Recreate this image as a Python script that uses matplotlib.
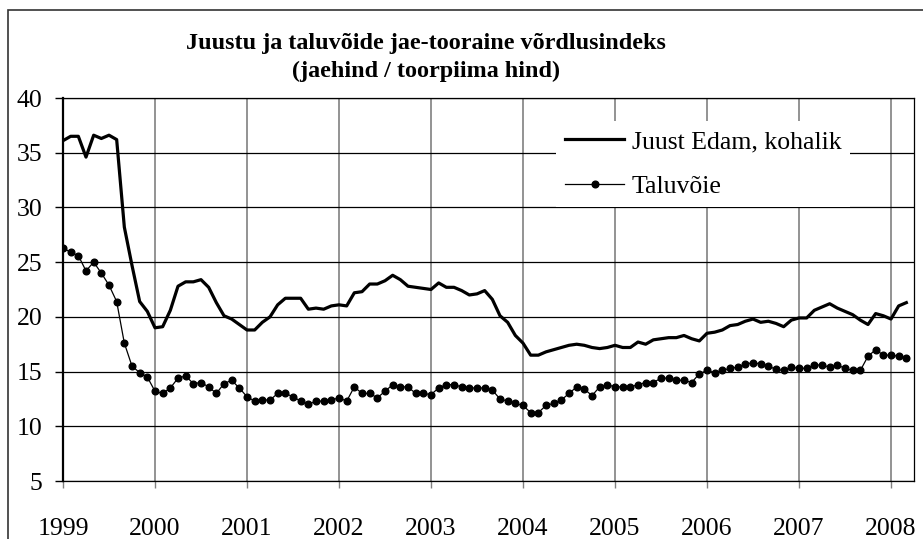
import numpy as np
import matplotlib.pyplot as plt
from matplotlib.patches import Rectangle

plt.rcParams['font.family'] = ['Liberation Serif', 'DejaVu Serif']

# ============================================================
# Datos mensuales (ene 1999 - mar 2008)
# ============================================================

start_year = 1999

juust_edam = [
    36.1, 36.5, 36.5, 34.6, 36.6, 36.3, 36.6, 36.2, 28.2, 24.7, 21.4, 20.5,  # 1999
    19.0, 19.1, 20.6, 22.8, 23.2, 23.2, 23.4, 22.7, 21.3, 20.1, 19.8, 19.3,  # 2000
    18.8, 18.8, 19.5, 20.0, 21.1, 21.7, 21.7, 21.7, 20.7, 20.8, 20.7, 21.0,  # 2001
    21.1, 21.0, 22.2, 22.3, 23.0, 23.0, 23.3, 23.8, 23.4, 22.8, 22.7, 22.6,  # 2002
    22.5, 23.1, 22.7, 22.7, 22.4, 22.0, 22.1, 22.4, 21.6, 20.1, 19.5, 18.3,  # 2003
    17.6, 16.5, 16.5, 16.8, 17.0, 17.2, 17.4, 17.5, 17.4, 17.2, 17.1, 17.2,  # 2004
    17.4, 17.2, 17.2, 17.7, 17.5, 17.9, 18.0, 18.1, 18.1, 18.3, 18.0, 17.8,  # 2005
    18.5, 18.6, 18.8, 19.2, 19.3, 19.6, 19.8, 19.5, 19.6, 19.4, 19.1, 19.7,  # 2006
    19.9, 19.9, 20.6, 20.9, 21.2, 20.8, 20.5, 20.2, 19.7, 19.3, 20.3, 20.1,  # 2007
    19.8, 21.0, 21.3,                                                        # 2008
]

taluvoie = [
    26.3, 25.9, 25.6, 24.2, 25.0, 24.0, 22.9, 21.4, 17.6, 15.5, 14.9, 14.5,  # 1999
    13.2, 13.0, 13.5, 14.4, 14.6, 13.9, 14.0, 13.6, 13.0, 13.9, 14.2, 13.5,  # 2000
    12.7, 12.3, 12.4, 12.4, 13.0, 13.0, 12.7, 12.3, 12.0, 12.3, 12.3, 12.4,  # 2001
    12.6, 12.3, 13.6, 13.0, 13.0, 12.6, 13.2, 13.8, 13.6, 13.6, 13.0, 13.0,  # 2002
    12.9, 13.5, 13.8, 13.8, 13.6, 13.5, 13.5, 13.5, 13.3, 12.5, 12.3, 12.1,  # 2003
    11.9, 11.25, 11.25, 11.9, 12.1, 12.4, 13.0, 13.6, 13.4, 12.8, 13.6, 13.8,  # 2004
    13.6, 13.6, 13.6, 13.8, 14.0, 14.0, 14.4, 14.4, 14.2, 14.2, 14.0, 14.8,  # 2005
    15.1, 14.9, 15.1, 15.3, 15.4, 15.7, 15.8, 15.7, 15.5, 15.2, 15.1, 15.4,  # 2006
    15.3, 15.3, 15.6, 15.6, 15.4, 15.6, 15.3, 15.1, 15.1, 16.4, 17.0, 16.5,  # 2007
    16.5, 16.4, 16.2,                                                        # 2008
]

years = list(range(1999, 2009))
y_ticks = [5, 10, 15, 20, 25, 30, 35, 40]

title_lines = ["Juustu ja taluvõide jae-tooraine võrdlusindeks",
               "(jaehind / toorpiima hind)"]
label_juust = "Juust Edam, kohalik"
label_talu = "Taluvõie"

# eje temporal en años fraccionarios
t = start_year + np.arange(len(juust_edam)) / 12.0

# ============================================================
# Figura
# ============================================================

W, H = 923, 539
fig = plt.figure(figsize=(W / 100, H / 100), dpi=100)
ax = fig.add_axes([63 / W, 1 - 481 / H, (914 - 63) / W, (481 - 98) / H])

# marco exterior del gráfico
fig.patches.append(Rectangle((8 / W, -0.1), 1.2, 1.1 - 10 / H,
                             transform=fig.transFigure, fill=False,
                             edgecolor="#333333", linewidth=1.2))

ax.plot(t, juust_edam, color="black", linewidth=2.3, label=label_juust,
        zorder=3)
ax.plot(t, taluvoie, color="black", linewidth=0.9, marker="o",
        markersize=4.8, label=label_talu, zorder=3)

ax.set_xlim(1999, 2008.25)
ax.set_ylim(5, 40)
ax.set_xticks(years)
ax.set_xticklabels([str(y) for y in years])
ax.set_yticks(y_ticks)

ax.grid(axis="y", color="black", linewidth=0.9)
ax.grid(axis="x", color="#808080", linewidth=1.2)
ax.set_axisbelow(True)

for side in ["top", "right", "bottom"]:
    ax.spines[side].set_linewidth(0.9)
ax.spines["left"].set_linewidth(1.6)

ax.tick_params(axis="x", length=5, width=1, color="#808080", pad=21.5,
               labelsize=18.5)
ax.tick_params(axis="y", length=6, width=1, pad=9, labelsize=18.5)

leg = ax.legend(loc="upper left", bbox_to_anchor=(556 / W, 1 - 121 / H),
                bbox_transform=fig.transFigure,
                fontsize=18.5, frameon=True, fancybox=False, framealpha=1,
                edgecolor="none", handlelength=2.3, handletextpad=0.3,
                labelspacing=0.85, borderpad=0.35, borderaxespad=0)

fig.text(426 / W, 1 - 43 / H, title_lines[0], ha="center", va="center",
         fontsize=17.4, fontweight="bold")
fig.text(426 / W, 1 - 71 / H, title_lines[1], ha="center", va="center",
         fontsize=17.4, fontweight="bold")

fig.savefig("out.png", dpi=100)
